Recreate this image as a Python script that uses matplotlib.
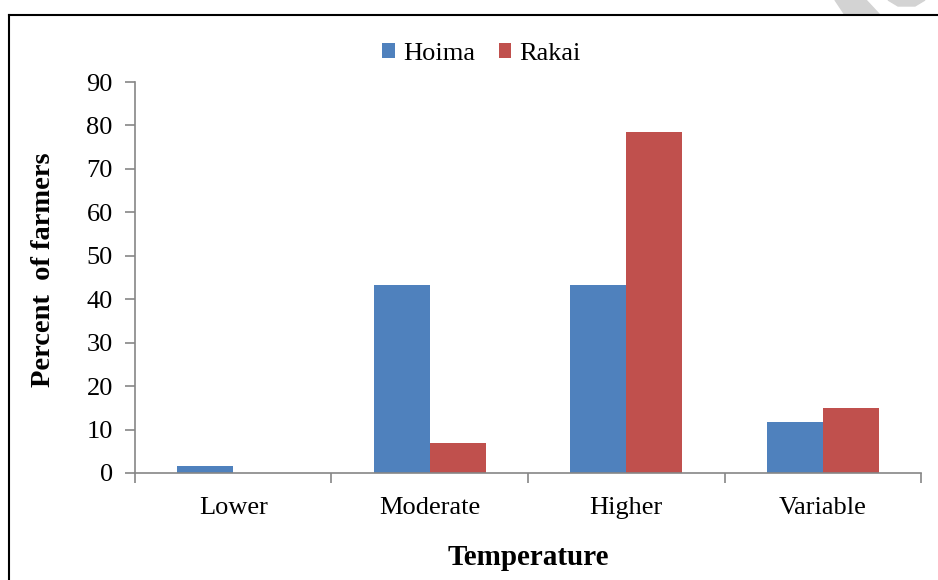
import numpy as np
import matplotlib.pyplot as plt
from matplotlib.lines import Line2D
from matplotlib.patches import Polygon

categories = ['Lower', 'Moderate', 'Higher', 'Variable']
hoima = [1.7, 43.3, 43.3, 11.7]
rakai = [0.0, 6.8, 78.4, 14.9]
yticks = [0, 10, 20, 30, 40, 50, 60, 70, 80, 90]

plt.rcParams['font.family'] = ['Liberation Serif', 'DejaVu Serif']

fig = plt.figure(figsize=(9.38, 5.8), dpi=100)
ax = fig.add_axes([0.1439, 0.1845, 0.8380, 0.6741])

x = np.arange(len(categories))
w = 0.286
ax.bar(x - w / 2, hoima, w, color='#4F81BD', label='Hoima')
ax.bar(x + w / 2, rakai, w, color='#C0504D', label='Rakai')

ax.set_xlim(-0.5, len(categories) - 0.5)
ax.set_ylim(0, 90)
ax.set_yticks(yticks)
ax.set_xticks(x)
ax.set_xticklabels(categories)
ax.set_xticks(np.arange(-0.5, len(categories)), minor=True)

for s in ['top', 'right']:
    ax.spines[s].set_visible(False)
for s in ['left', 'bottom']:
    ax.spines[s].set_color('#868686')
    ax.spines[s].set_linewidth(1.2)

ax.tick_params(axis='y', direction='out', length=7, width=1.2, color='#868686',
               labelsize=19, pad=9)
ax.tick_params(axis='x', which='major', length=0, labelsize=19, pad=17)
ax.tick_params(axis='x', which='minor', direction='out', length=7, width=1.2,
               color='#868686')

ax.set_ylabel('Percent  of farmers', fontsize=20.5, fontweight='bold')
ax.yaxis.set_label_coords(-0.100, 0.519)
ax.set_xlabel('Temperature', fontsize=21, fontweight='bold', labelpad=18)

ax.legend(loc='upper center', bbox_to_anchor=(0.441, 1.16), ncol=2, frameon=False,
          fontsize=19, handlelength=0.48, handleheight=0.48, handletextpad=0.3,
          columnspacing=0.9)

# outer frame (left and top edges visible)
fig.add_artist(Line2D([9 / 938, 9 / 938], [0, 1 - 15 / 580], color='black',
                      lw=1.5, transform=fig.transFigure))
fig.add_artist(Line2D([9 / 938, 1], [1 - 15 / 580, 1 - 15 / 580], color='black',
                      lw=1.5, transform=fig.transFigure))

# faint watermark in the top right corner
wm1 = Polygon([[835 / 938, 1], [866 / 938, 1], [880 / 938, 1 - 15 / 580],
               [845 / 938, 1 - 15 / 580]], closed=True, color='#d3d3d3',
              transform=fig.transFigure, zorder=0)
wm2 = Polygon([[888 / 938, 1], [925 / 938, 1], [915 / 938, 1 - 6 / 580],
               [898 / 938, 1 - 6 / 580]], closed=True, color='#d3d3d3',
              transform=fig.transFigure, zorder=0)
fig.add_artist(wm1)
fig.add_artist(wm2)

fig.savefig('out.png', dpi=100)
